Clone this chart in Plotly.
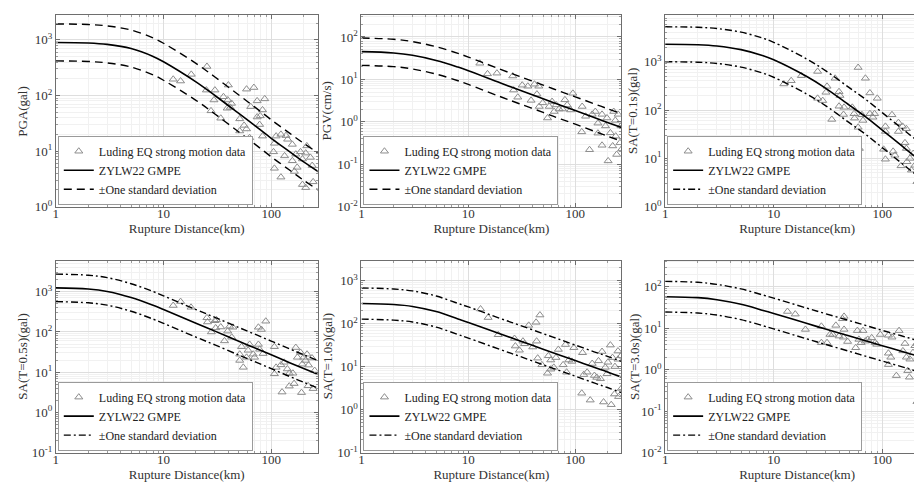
import plotly.graph_objects as go

# ---------------- data ----------------
r_grid = [1, 2, 3, 5, 8, 10, 20, 30, 50, 70, 100, 150, 200, 300]

# PGA (gal)
pga_r = [12.3, 14.4, 18.1, 25.3, 25, 30, 29.4, 27.6, 34, 36, 39.5, 40, 41.7, 39, 42.8, 51, 51, 59, 69, 74, 87, 64.5,
         56, 59, 60, 63, 74, 79, 78, 83, 83, 111, 107, 105, 107, 123, 137, 123, 133, 142, 157, 169, 157, 164, 174,
         187, 195, 209, 231, 240, 195, 209, 245, 214]
pga_v = [196, 182, 240, 333, 125, 125, 83, 53, 39, 95, 83, 154, 61, 59, 72, 38, 23, 130, 139, 80, 87, 63,
         29, 25, 12.4, 17.4, 41, 43, 30, 18.6, 55, 18.6, 13.8, 9.7, 4.9, 20, 19, 3.4, 8.2, 16.3, 13.2, 8.8, 6.7, 4.3, 5.1,
         9.7, 7.2, 9.2, 7.7, 5.5, 2.5, 2.2, 2.8, 12.4]
pga_med = [900, 880, 830, 700, 505, 405, 176, 100, 47.5, 29, 17, 9.6, 6.4, 3.8]
pga_up = [1935, 1892, 1785, 1505, 1086, 871, 378, 215, 102, 62.4, 36.6, 20.6, 13.8, 8.2]
pga_lo = [419, 409, 386, 326, 235, 188, 81.9, 46.5, 22.1, 13.5, 7.9, 4.47, 2.98, 1.77]

# PGV (cm/s)
pgv_r = [12.8, 15.1, 18.5, 26, 26.5, 29, 31.9, 36, 41.5, 45.6, 43.8, 38.6, 46, 55, 57, 60.7, 63.5, 66.3, 70.6, 80,
         84, 90.5, 95, 76, 116, 115, 125, 136, 144, 154, 163, 178, 163, 178, 192, 198, 213, 229, 237, 239, 224, 203,
         244, 262, 268, 252, 272, 49.6]
pgv_v = [24, 13.5, 14, 12, 5.6, 3.8, 7.3, 6.9, 7.7, 6.9, 4.5, 3.2, 2.3, 1.23, 2.3, 3.0, 1.75, 2.5, 2.0, 3.3,
         2.5, 1.9, 4.7, 2.0, 2.3, 0.58, 1.35, 0.22, 1.5, 1.75, 0.93, 1.5, 0.54, 0.28, 0.8, 1.23, 0.55, 1.75, 1.08, 0.46,
         0.27, 0.12, 0.17, 0.32, 0.8, 1.5, 0.23, 2.8]
pgv_med = [45, 42, 37, 28, 19.5, 16, 8.2, 5.6, 3.5, 2.55, 1.85, 1.27, 0.97, 0.67]
pgv_up = [94.5, 88.2, 77.7, 58.8, 41, 33.6, 17.2, 11.8, 7.35, 5.36, 3.89, 2.67, 2.04, 1.41]
pgv_lo = [21.4, 20, 17.6, 13.3, 9.3, 7.6, 3.9, 2.67, 1.67, 1.21, 0.88, 0.6, 0.46, 0.32]

# SA(T=0.1s)
sa01_r = [12.4, 14.5, 18, 25.4, 25.4, 28.3, 31, 30.3, 34.3, 36.8, 40, 40.8, 40, 44.5, 44, 53, 55, 55.6, 60, 60,
          61.6, 65, 70, 77, 90, 77, 82, 85, 66.5, 107, 107, 103, 107, 123, 126, 131, 141, 141, 154, 149, 162, 167,
          169, 180, 186, 193, 200, 209, 218, 221, 237, 251, 254, 230, 251, 167]
sa01_v = [347, 405, 515, 630, 175, 157, 310, 233, 64, 455, 240, 200, 120, 114, 81, 114, 84, 68, 760, 44,
          16, 80, 455, 226, 175, 84, 71, 84, 61, 46, 36, 15.4, 9.6, 80, 14, 11.6, 55, 36, 46, 7.0, 21, 16,
          8.5, 10, 5.7, 12.6, 7.2, 3.3, 14, 9.1, 5.1, 4.1, 7.2, 11.6, 12.6, 41]
sa01_med = [2300, 2250, 2120, 1780, 1330, 1100, 500, 285, 125, 73, 38.5, 18.5, 11, 5.4]
sa01_up = [5290, 5175, 4876, 4094, 3059, 2530, 1150, 656, 288, 168, 88.6, 42.6, 25.3, 12.4]
sa01_lo = [1000, 978, 922, 774, 578, 478, 217, 124, 54.3, 31.7, 16.7, 8.04, 4.78, 2.35]

# SA(T=0.5s)
sa05_r = [12.3, 14.4, 18, 25.3, 25.6, 27.8, 30, 31, 30.5, 34, 36.8, 39.4, 41, 44, 43, 51, 53, 51, 55, 59, 61, 63,
          68, 70, 76, 78, 76, 81, 89, 84, 107, 107, 111, 126, 123, 132, 141, 147, 159, 163, 169, 175, 187, 191, 200,
          208, 215, 222, 220, 239, 253, 245, 194, 147]
sa05_v = [455, 570, 410, 225, 177, 100, 190, 200, 126, 133, 60, 105, 138, 131, 74, 28, 43, 19.6, 13.2, 23.4, 35, 49,
          28, 23.4, 49, 37, 131, 115, 185, 29, 43, 9.1, 13.2, 3.2, 15.2, 17.6, 12, 9.4, 9.4, 5.2, 41, 23.4, 31, 3.1,
          23.4, 19.6, 28, 15, 4.6, 22.5, 11, 3.9, 15.8, 4.5]
sa05_med = [1250, 1170, 1020, 720, 460, 360, 164, 105, 58.6, 40.3, 27, 17, 12.3, 7.9]
sa05_up = [2750, 2574, 2244, 1584, 1012, 792, 361, 231, 129, 88.7, 59.4, 37.4, 27.1, 17.4]
sa05_lo = [568, 532, 464, 327, 209, 164, 74.5, 47.7, 26.6, 18.3, 12.3, 7.7, 5.6, 3.6]

# SA(T=1.0s)
sa10_r = [13, 15.3, 19, 27, 27.5, 30, 32.4, 33.5, 36.7, 43, 46.7, 43.5, 40, 44.5, 48.7, 56, 59, 55, 66, 69.5, 63,
          59, 77, 81, 87, 97, 83, 93, 115, 120, 117, 129, 138, 144, 151, 159, 165, 172, 178, 184, 191, 198, 213, 217,
          223, 233, 235, 251, 254, 268, 270, 251, 202]
sa10_v = [218, 138, 55, 45, 30, 24, 39, 34, 91, 107, 158, 39, 28.5, 15.7, 11, 17.8, 14.2, 7.0, 16.2, 25, 9.6,
          8.7, 11, 32.5, 14.2, 27.5, 7.4, 13.2, 2.4, 6.5, 21, 7.4, 1.66, 11.8, 6.2, 5.6, 13.6, 5.2, 22.4, 1.5, 9.6,
          6.8, 31.6, 1.3, 16.2, 2.3, 10, 14.8, 2.0, 17.8, 3.1, 23, 12.6]
sa10_med = [293, 277, 250, 190, 128, 106, 57, 40, 25.4, 18.9, 13.8, 9.6, 7.5, 5.2]
sa10_up = [674, 637, 575, 437, 294, 244, 131, 92, 58.4, 43.5, 31.7, 22.1, 17.3, 12.0]
sa10_lo = [127, 120, 109, 82.6, 55.7, 46.1, 24.8, 17.4, 11.0, 8.2, 6.0, 4.17, 3.26, 2.26]

# SA(T=3.0s)
sa30_r = [13.4, 15.8, 19.6, 27.5, 27.5, 31, 33, 35, 37.4, 43, 44.5, 40, 44, 48, 44.5, 57, 59, 66.5, 61, 64, 70,
          73.5, 80, 86, 89, 96, 114, 123, 114, 120, 114, 135, 143, 155, 162, 167, 172, 180, 178, 192, 200, 209, 213,
          221, 228, 245, 209, 237, 254, 251, 257, 221]
sa30_v = [25.5, 22, 9.4, 11.2, 4.5, 4.5, 7.1, 7.1, 11.8, 17, 19.4, 6.5, 6.1, 4.8, 9.4, 3.4, 8.8, 8.8, 5.4, 4.5, 4.9,
          5.4, 5.9, 4.5, 4.1, 7.1, 6.8, 6.1, 2.5, 2.0, 1.33, 0.72, 8.8, 2.85, 4.3, 2.0, 0.95, 1.8, 0.66, 2.6, 3.8, 4.3,
          2.0, 0.66, 0.53, 0.5, 0.17, 6.5, 2.85, 1.25, 0.38, 4.9]
sa30_med = [58, 55, 49, 38, 27, 22.8, 13.2, 9.6, 6.5, 5.0, 3.8, 2.8, 2.24, 1.64]
sa30_up = [136, 129, 115, 89.3, 63.5, 53.6, 31, 22.6, 15.3, 11.8, 8.9, 6.6, 5.3, 3.85]
sa30_lo = [24.7, 23.4, 20.9, 16.2, 11.5, 9.7, 5.6, 4.1, 2.77, 2.13, 1.62, 1.19, 0.95, 0.70]

y_titles = ["PGA(gal)", "PGV(cm/s)", "SA(T=0.1s)(gal)", "SA(T=0.5s)(gal)", "SA(T=1.0s)(gal)", "SA(T=3.0s)(gal)"]
x_title = "Rupture Distance(km)"
legend_names = ["Luding EQ strong motion data", "ZYLW22 GMPE", "\u00b1One standard deviation"]
x_ticks = [1, 10, 100]
x_ticktext = ["1", "10", "100"]

y_decades = [[0, 1, 2, 3], [-2, -1, 0, 1, 2], [0, 1, 2, 3], [-1, 0, 1, 2, 3], [-1, 0, 1, 2, 3], [-2, -1, 0, 1, 2]]
y_ranges = [[0, 3.45], [-2, 2.52], [0, 3.97], [-1, 3.77], [-1, 3.46], [-2, 2.63]]
x_range = [0, 2.431]

panels = [
    (pga_r, pga_v, pga_med, pga_up, pga_lo, "dash"),
    (pgv_r, pgv_v, pgv_med, pgv_up, pgv_lo, "dash"),
    (sa01_r, sa01_v, sa01_med, sa01_up, sa01_lo, "dashdot"),
    (sa05_r, sa05_v, sa05_med, sa05_up, sa05_lo, "dashdot"),
    (sa10_r, sa10_v, sa10_med, sa10_up, sa10_lo, "dashdot"),
    (sa30_r, sa30_v, sa30_med, sa30_up, sa30_lo, "dashdot"),
]

# ---------------- layout (pixel boxes) ----------------
W, H = 922, 489
col_px = [(45, 308), (352, 613), (657, 922)]
row_px = [(7, 202), (257, 452)]
ytitle_x = [12, 317, 625, 12, 318, 626]

FONT = "Liberation Serif"
DASH = {"dash": "8px,5px", "dashdot": "7px,3px,2px,3px"}

fig = go.Figure()
layout = dict(
    width=W, height=H, margin=dict(l=0, r=0, t=0, b=0),
    paper_bgcolor="white", plot_bgcolor="white",
    font=dict(family=FONT, size=12, color="#333333"),
)
annotations = []


def minor_vals(lo, hi):
    vals = []
    for d in range(int(lo) - 1, int(hi) + 2):
        for m in range(2, 10):
            vals.append(m * 10 ** d)
    return vals


for i, (r, v, med, up, lo, dstyle) in enumerate(panels):
    row, col = divmod(i, 3)
    n = "" if i == 0 else str(i + 1)
    xa, ya = "x" + n, "y" + n
    leg = "legend" + n
    x0, x1 = col_px[col]
    y0, y1 = row_px[row]

    fig.add_trace(go.Scatter(
        x=r, y=v, mode="markers", name=legend_names[0], xaxis=xa, yaxis=ya, legend=leg,
        marker=dict(symbol="triangle-up-open", size=7, color="#8c8c8c", line=dict(width=1)),
        cliponaxis=True))
    fig.add_trace(go.Scatter(
        x=r_grid, y=med, mode="lines", name=legend_names[1], xaxis=xa, yaxis=ya, legend=leg,
        line=dict(color="black", width=1.6, shape="spline", smoothing=1.0)))
    fig.add_trace(go.Scatter(
        x=r_grid, y=up, mode="lines", name=legend_names[2], xaxis=xa, yaxis=ya, legend=leg,
        legendgroup="sd" + n,
        line=dict(color="black", width=1.4, dash=DASH[dstyle], shape="spline", smoothing=1.0)))
    fig.add_trace(go.Scatter(
        x=r_grid, y=lo, mode="lines", name=legend_names[2], xaxis=xa, yaxis=ya, legend=leg,
        legendgroup="sd" + n, showlegend=False,
        line=dict(color="black", width=1.4, dash=DASH[dstyle], shape="spline", smoothing=1.0)))

    common = dict(
        type="log", showline=True, linecolor="#6e6e6e", linewidth=1, mirror="ticks",
        ticks="inside", ticklen=4, tickcolor="#6e6e6e",
        showgrid=True, gridcolor="#dedede", gridwidth=1, zeroline=False,
        tickfont=dict(family=FONT, size=13, color="#333333"),
    )
    layout["xaxis" + n] = dict(
        common, domain=[x0 / W, x1 / W], anchor=ya, range=x_range,
        tickmode="array", tickvals=x_ticks, ticktext=x_ticktext, ticklabelstandoff=-5,
        minor=dict(tickmode="array", tickvals=minor_vals(0, 3), showgrid=True,
                   gridcolor="#f1f1f1", ticks="inside", ticklen=2, tickcolor="#9a9a9a"),
        title=dict(text=x_title, font=dict(family=FONT, size=13, color="#333333"), standoff=0),
    )
    dec = y_decades[i]
    layout["yaxis" + n] = dict(
        common, domain=[1 - y1 / H, 1 - y0 / H], anchor=xa, range=y_ranges[i],
        tickmode="array", tickvals=[10 ** d for d in dec],
        ticktext=["10<sup>%d</sup>" % d for d in dec],
        minor=dict(tickmode="array", tickvals=minor_vals(dec[0], dec[-1]), showgrid=True,
                   gridcolor="#f1f1f1", ticks="inside", ticklen=2, tickcolor="#9a9a9a"),
    )
    annotations.append(dict(
        text=y_titles[i], xref="paper", yref="paper", x=ytitle_x[i] / W, y=1 - (y0 + y1) / 2 / H,
        xanchor="center", yanchor="middle", textangle=-90, showarrow=False,
        font=dict(family=FONT, size=13, color="#333333")))
    layout[leg] = dict(
        x=(x0 + 2) / W, y=1 - (y1 - 2) / H, xanchor="left", yanchor="bottom",
        bgcolor="white", bordercolor="#9a9a9a", borderwidth=1,
        font=dict(family=FONT, size=12, color="#222222"),
        itemwidth=30, tracegroupgap=0, traceorder="normal",
    )

layout["annotations"] = annotations
fig.update_layout(**layout)
fig.write_html("out.html")
